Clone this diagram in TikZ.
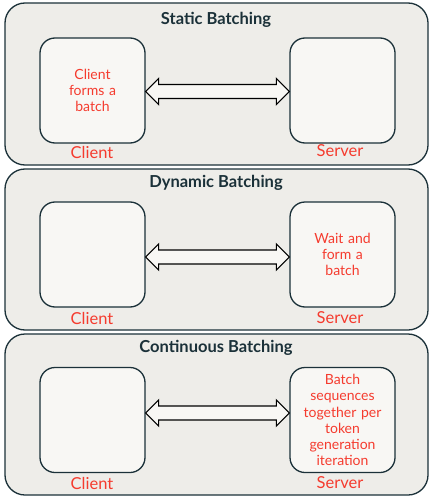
\documentclass[tikz,border=0pt]{standalone}
\usepackage{fontspec}
\setmainfont{Lato}
\usetikzlibrary{calc}
\definecolor{navy}{RGB}{27,49,57}
\definecolor{panelgray}{RGB}{238,237,233}
\definecolor{boxwhite}{RGB}{248,247,244}
\definecolor{batchred}{RGB}{245,59,46}
\begin{document}
\begin{tikzpicture}[x=1pt,y=-1pt,
  panel/.style={draw=navy,line width=1.3pt,fill=panelgray,rounded corners=20pt},
  endbox/.style={draw=navy,line width=1.3pt,fill=boxwhite,rounded corners=15pt,minimum width=105pt,minimum height=105pt,inner sep=2pt,align=center,text width=100pt,font=\fontsize{14}{16.2}\selectfont,text=batchred},
  paneltitle/.style={font=\fontsize{16.5}{19}\selectfont\bfseries,text=navy},
  sidelabel/.style={font=\fontsize{16.5}{19}\selectfont,text=batchred},
  twoway/.style={draw=black,line width=1.1pt,fill=boxwhite,line join=miter}]
\useasboundingbox (0,0) rectangle (435,503);

%Shape: Static panel
\draw [panel] (5,3) rectangle (428,165);
%Shape: Dynamic panel
\draw [panel] (5,169) rectangle (428,330);
%Shape: Continuous panel
\draw [panel] (5,334) rectangle (428,495);

% Static Batching
\node [paneltitle] (t1) at (216,20) {Static Batching};
\node [endbox] (c1) at (92.5,90.5) {Client\\forms a\\batch};
\node [endbox] (s1) at (342.5,90.5) {};
\coordinate (a1l) at ([yshift=-1pt]c1.east);
\coordinate (a1r) at ([yshift=-1pt]s1.west);
\node [sidelabel] (lc1) at (92,152) {Client};
\node [sidelabel] (ls1) at (340,151) {Server};

% Dynamic Batching
\node [paneltitle] (t2) at (216,183) {Dynamic Batching};
\node [endbox] (c2) at (92.5,254.5) {};
\node [endbox] (s2) at (342.5,254.5) {Wait and\\form a\\batch};
\coordinate (a2l) at ([yshift=-2.5pt]c2.east);
\coordinate (a2r) at ([yshift=-2.5pt]s2.west);
\node [sidelabel] (lc2) at (92,318) {Client};
\node [sidelabel] (ls2) at (340,318) {Server};

% Continuous Batching
\node [paneltitle] (t3) at (216,348) {Continuous Batching};
\node [endbox] (c3) at (92.5,420) {};
\node [endbox] (s3) at (342.5,420) {Batch\\sequences\\together per\\token\\generation\\iteration};
\coordinate (a3l) at ([yshift=7pt]c3.east);
\coordinate (a3r) at ([yshift=7pt]s3.west);
\node [sidelabel] (lc3) at (92,483) {Client};
\node [sidelabel] (ls3) at (340,483) {Server};

%Double arrows
\foreach \l/\r in {a1l/a1r,a2l/a2r,a3l/a3r}
  \draw [twoway] (\l) -- ++(13,-13) -- ++(0,6) -- ($(\r)+(-13,-7)$) -- ++(0,-6) -- (\r)
    -- ++(-13,13) -- ++(0,-6) -- ($(\l)+(13,7)$) -- ++(0,6) -- cycle;

\end{tikzpicture}
\end{document}
